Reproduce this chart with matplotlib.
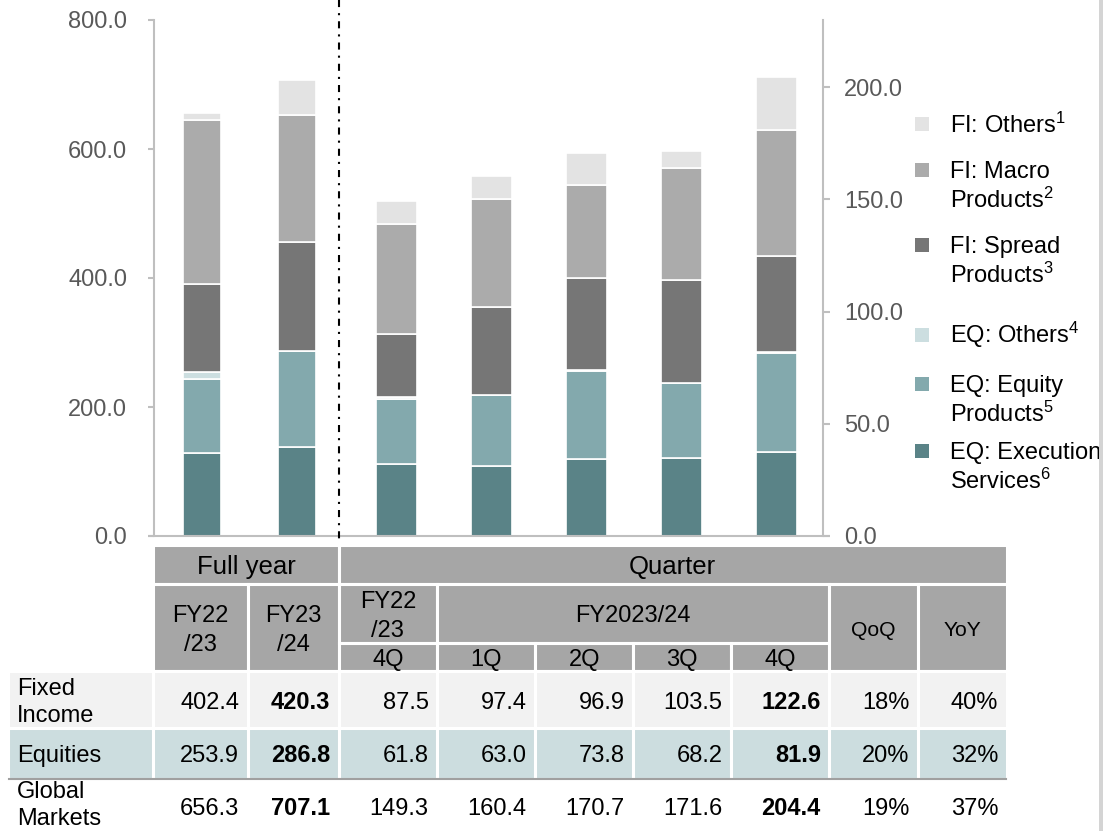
import matplotlib
matplotlib.use('Agg')
import matplotlib.pyplot as plt
from matplotlib.patches import Rectangle
import numpy as np

plt.rcParams['font.family'] = ['Liberation Sans', 'DejaVu Sans']
plt.rcParams['mathtext.fontset'] = 'custom'
plt.rcParams['mathtext.rm'] = 'Liberation Sans'
plt.rcParams['mathtext.it'] = 'Liberation Sans:italic'
plt.rcParams['mathtext.bf'] = 'Liberation Sans:bold'

# ---------------- data ----------------
fy_labels = ['FY22/23', 'FY23/24']
q_labels = ['4Q FY22/23', '1Q', '2Q', '3Q', '4Q']

segment_names = ['EQ: Execution Services', 'EQ: Equity Products', 'EQ: Others',
                 'FI: Spread Products', 'FI: Macro Products', 'FI: Others']

fy_eq_exec = [128.5, 137.5]
fy_eq_prod = [115.0, 148.9]
fy_eq_oth = [10.4, 0.4]
fy_fi_spread = [136.5, 169.0]
fy_fi_macro = [254.5, 196.4]
fy_fi_oth = [11.4, 54.9]

q_eq_exec = [32.1, 31.2, 34.3, 34.7, 37.3]
q_eq_prod = [28.9, 31.6, 39.2, 33.4, 44.3]
q_eq_oth = [0.8, 0.2, 0.3, 0.1, 0.3]
q_fi_spread = [28.2, 39.0, 41.1, 45.8, 43.0]
q_fi_macro = [49.1, 48.2, 41.4, 49.9, 55.8]
q_fi_oth = [10.2, 10.2, 14.4, 7.8, 23.8]

left_ticks = [0, 200, 400, 600, 800]
right_ticks = [0, 50, 100, 150, 200]

legend_labels = [('FI: Others', '1'), ('FI: Macro', 'Products', '2'),
                 ('FI: Spread', 'Products', '3'), ('EQ: Others', '4'),
                 ('EQ: Equity', 'Products', '5'), ('EQ: Execution', 'Services', '6')]

# table data
row_labels = [['Fixed', 'Income'], ['Equities'], ['Global', 'Markets']]
fixed_income = [402.4, 420.3, 87.5, 97.4, 96.9, 103.5, 122.6]
equities = [253.9, 286.8, 61.8, 63.0, 73.8, 68.2, 81.9]
global_markets = [656.3, 707.1, 149.3, 160.4, 170.7, 171.6, 204.4]
qoq = [18, 20, 19]
yoy = [40, 32, 37]
table_values = [fixed_income, equities, global_markets]

# ---------------- style ----------------
seg_colors = ['#5A8387', '#83A9AD', '#CCDEE0', '#767676', '#ABABAB', '#E3E3E3']
HEAD = '#A6A6A6'
FI_ROW = '#F2F2F2'
EQ_ROW = '#CCDDDF'
SPINE = '#BFBFBF'
TICKC = '#595959'

W, H = 1103, 831
fig = plt.figure(figsize=(W / 100, H / 100), dpi=100)

PX = 95.0   # px per x unit
X0 = 202.0  # px of first bar
ax_l, ax_r, ax_t, ax_b = 154.3, 823.3, 20.0, 536.0
ax = fig.add_axes([ax_l / W, (H - ax_b) / H, (ax_r - ax_l) / W, (ax_b - ax_t) / H])
ax.set_xlim((ax_l - X0) / PX, (ax_r - X0) / PX)
ax.set_ylim(0, 800)
ax2 = ax.twinx()
ax2.set_ylim(0, (ax_b - ax_t) / 2.245)

fy_x = np.arange(len(fy_labels))
q_x = np.arange(len(q_labels)) + 2.045

fy_series = [fy_eq_exec, fy_eq_prod, fy_eq_oth, fy_fi_spread, fy_fi_macro, fy_fi_oth]
q_series = [q_eq_exec, q_eq_prod, q_eq_oth, q_fi_spread, q_fi_macro, q_fi_oth]

bottom = np.zeros(len(fy_x))
for vals, c in zip(fy_series, seg_colors):
    ax.bar(fy_x, vals, width=0.395, bottom=bottom, color=c, edgecolor='white', linewidth=1.2)
    bottom += np.array(vals)

bottom = np.zeros(len(q_x))
for vals, c in zip(q_series, seg_colors):
    ax2.bar(q_x, vals, width=0.43, bottom=bottom, color=c, edgecolor='white', linewidth=1.2)
    bottom += np.array(vals)

for a in (ax, ax2):
    for s in ('top', 'bottom'):
        a.spines[s].set_visible(False)
ax.spines['right'].set_visible(False)
ax2.spines['left'].set_visible(False)
ax.spines['left'].set_color(SPINE)
ax.spines['left'].set_linewidth(1.5)
ax2.spines['right'].set_color(SPINE)
ax2.spines['right'].set_linewidth(1.5)
ax.set_xticks([])
ax.set_yticks(left_ticks)
ax.set_yticklabels([f'{v:.1f}' for v in left_ticks])
ax2.set_yticks(right_ticks)
ax2.set_yticklabels([f'{v:.1f}' for v in right_ticks])
ax.tick_params(axis='y', length=4.5, width=1.5, color=SPINE, labelsize=17,
               labelcolor=TICKC, pad=15)
ax2.tick_params(axis='y', length=5, width=1.5, color=SPINE, labelsize=17,
                labelcolor=TICKC, pad=10)
ax.patch.set_visible(False)
ax2.patch.set_visible(False)

# ---------------- overlay for table / legend / separators ----------------
ov = fig.add_axes([0, 0, 1, 1], zorder=5)
ov.set_xlim(0, W)
ov.set_ylim(H, 0)
ov.axis('off')
ov.patch.set_visible(False)

def em(size):
    return size * 100 / 72.0

def txt(x, yc, s, size=17, ha='center', weight='normal', color='black', z=6):
    ov.text(x, yc + 0.358 * em(size), s, fontsize=size, ha=ha, va='baseline',
            fontweight=weight, color=color, zorder=z)

# baseline of axes & dash-dot separator
ov.plot([148, 830], [536, 536], color=SPINE, lw=1.5, solid_capstyle='butt')
ov.plot([339.3, 339.3], [0, 545], color='black', lw=1.5,
        linestyle=(0, (3.4, 2.9, 1.0, 2.9)))

def cell(x0, x1, y0, y1, color):
    ov.add_patch(Rectangle((x0, y0), x1 - x0, y1 - y0, facecolor=color,
                           edgecolor='white', lw=2.2, zorder=2))

cols = [153.2, 247.6, 338.6, 437.2, 535.2, 633.2, 731.2, 829.3, 918.0, 1006.8]
r_h1 = (545.2, 584.3)
r_h2 = (584.3, 671.0)
r_split = 642.5
r_fi = (671.0, 728.4)
r_eq = (728.4, 778.8)
lab_x0 = 8.3

# header row 1
cell(cols[0], cols[2], *r_h1, HEAD)
cell(cols[2], cols[9], *r_h1, HEAD)
txt((cols[0] + cols[2]) / 2, 564.5, 'Full year', size=18.5)
txt((cols[2] + cols[9]) / 2, 564.5, 'Quarter', size=18.5)

# header row 2
for i, lab in enumerate(fy_labels):
    cell(cols[i], cols[i + 1], *r_h2, HEAD)
    a, b = lab.split('/')
    cx = (cols[i] + cols[i + 1]) / 2
    txt(cx, 614, a)
    txt(cx, 643, '/' + b)
cell(cols[2], cols[3], r_h2[0], r_split, HEAD)
txt((cols[2] + cols[3]) / 2, 600, 'FY22')
txt((cols[2] + cols[3]) / 2, 629, '/23')
cell(cols[3], cols[7], r_h2[0], r_split, HEAD)
txt((cols[3] + cols[7]) / 2, 614, 'FY2023/24')
for i in range(5):
    cell(cols[2 + i], cols[3 + i], r_split, r_h2[1], HEAD)
    txt((cols[2 + i] + cols[3 + i]) / 2, 657.5, q_labels[i].split()[0])
cell(cols[7], cols[8], *r_h2, HEAD)
cell(cols[8], cols[9], *r_h2, HEAD)
txt((cols[7] + cols[8]) / 2, 628, 'QoQ', size=15.2)
txt((cols[8] + cols[9]) / 2, 628, 'YoY', size=15.2)

# data rows
row_fill = [FI_ROW, EQ_ROW, None]
row_center = [701.0, 754.0, 807.0]
label_center = [701.0, 754.0, 804.0]
row_spans = [r_fi, r_eq, None]
bold_cols = {1, 6}
for r in range(3):
    if row_fill[r] is not None:
        cell(lab_x0, cols[0], *row_spans[r], row_fill[r])
        for c in range(9):
            cell(cols[c], cols[c + 1], *row_spans[r], row_fill[r])
    lines = row_labels[r]
    if len(lines) == 1:
        txt(17, label_center[r], lines[0], ha='left')
    else:
        txt(17, label_center[r] - 14.0, lines[0], ha='left')
        txt(17, label_center[r] + 13.0, lines[1], ha='left')
    vals = table_values[r]
    for c, v in enumerate(vals):
        txt(cols[c + 1] - 8.5, row_center[r], f'{v:.1f}', ha='right',
            weight='bold' if c in bold_cols else 'normal')
    txt(cols[8] - 8.5, row_center[r], f'{qoq[r]}%', ha='right')
    txt(cols[9] - 8.5, row_center[r], f'{yoy[r]}%', ha='right')

ov.plot([lab_x0 + 1, cols[9] - 1], [778.6, 778.6], color='#A0A0A0', lw=1.5, zorder=4)

# legend (top to bottom: FI others ... EQ execution)
leg_colors = seg_colors[::-1]
leg_y = [124, 170, 245, 334.5, 383.7, 450.8]
for (parts, c, y) in zip(legend_labels, leg_colors, leg_y):
    ov.add_patch(Rectangle((915, y - 7), 14, 14, facecolor=c, edgecolor='none', zorder=3))
    if len(parts) == 2:
        txt(949.5, y, parts[0] + '$^{' + parts[1] + '}$', ha='left')
    else:
        txt(949.5, y, parts[0], ha='left')
        txt(949.5, y + 29.3, parts[1] + '$^{' + parts[2] + '}$', ha='left')

# right border
ov.add_patch(Rectangle((1098.5, 0), 4.5, H, facecolor='#D4D4D4', edgecolor='none', zorder=10))

fig.savefig('out.png', dpi=100)
